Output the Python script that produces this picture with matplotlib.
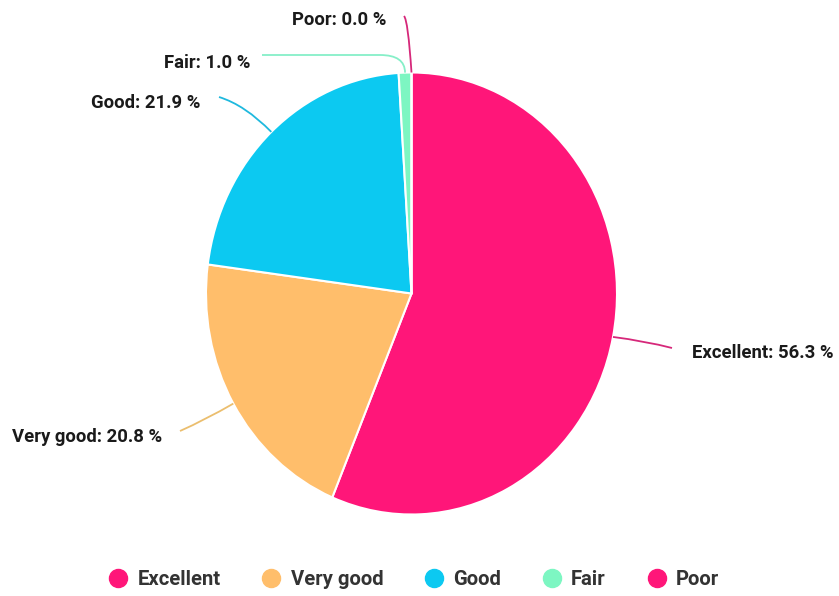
import numpy as np
import matplotlib
matplotlib.use("Agg")
from matplotlib import pyplot as plt
from matplotlib.path import Path
from matplotlib.patches import PathPatch
from matplotlib.lines import Line2D

categories = ['Excellent', 'Very good', 'Good', 'Fair', 'Poor']
shares = [56.3, 20.8, 21.9, 1.0, 0.0]
colors = ['#FF1679', '#FFBE6B', '#0CC9F1', '#7DF6C2', '#FF1679']
line_colors = ['#D6287A', '#EBBE6E', '#1FB9DE', '#86EFC8', '#D6287A']

W, H = 839, 596
CX, CY = 411.5, 293.5     # pie centre in pixels (from top)
RX, RY = 205.5, 221.0     # source image is slightly stretched vertically

plt.rcParams['font.family'] = ['Roboto', 'DejaVu Sans']

fig = plt.figure(figsize=(W / 100, H / 100), dpi=100)
ax = fig.add_axes([0, 0, 1, 1])
ax.pie(shares, colors=colors, startangle=90, counterclock=False,
       radius=1, wedgeprops=dict(edgecolor='white', linewidth=1.5))
ax.set_aspect('auto')
ax.set_xlim(-CX / RX, (W - CX) / RX)
ax.set_ylim(-(H - CY) / RY, CY / RY)
ax.axis('off')


def px(x, y):
    # pixel position (y from top) -> data coords
    return ((x - CX) / RX, (CY - y) / RY)


# anchor points on the rim, at each wedge's middle angle
cum = np.cumsum([0] + shares[:-1])
anchors = []
for c, s in zip(cum, shares):
    ang = np.deg2rad(90 - (c + s / 2) * 3.6)
    anchors.append((np.cos(ang), np.sin(ang)))

# leader line shapes (pixel coords, after the anchor) and text placement
leaders = {
    'Excellent': ([(645, 341), (672, 348)], (692, 353), 'left'),
    'Very good': ([(205, 420), (180, 431)], (162, 437), 'right'),
    'Good': ([(245, 105), (219, 97)], (200, 103), 'right'),
    'Fair': ([(405, 55), (380, 55), (262, 55)], (250, 63), 'right'),
    'Poor': ([(408, 20), (404, 16)], (386, 20), 'right'),
}

for i, name in enumerate(categories):
    pts, tpos, ha = leaders[name]
    start = anchors[i]
    verts = [start] + [px(*p) for p in pts]
    if len(verts) == 3:
        codes = [Path.MOVETO, Path.CURVE3, Path.CURVE3]
    else:
        codes = [Path.MOVETO, Path.CURVE3, Path.CURVE3, Path.LINETO]
    ax.add_patch(PathPatch(Path(verts, codes), facecolor='none',
                           edgecolor=line_colors[i], linewidth=1.3))
    tx, ty = px(*tpos)
    ax.text(tx, ty, f'{name}: {shares[i]:.1f} %', ha=ha, va='center',
            fontsize=13.3, fontweight='bold', color='#1a1a1a')

handles = [Line2D([], [], marker='o', linestyle='none', markersize=13,
                  markerfacecolor=c, markeredgecolor=c) for c in colors]
fig.legend(handles, categories, loc='center', bbox_to_anchor=(0.493, 0.028),
           ncol=5, frameon=False, handlelength=1.0, handletextpad=0.45,
           columnspacing=2.0, prop=dict(family='Roboto', size=14.6, weight='bold'),
           labelcolor='#333333')

fig.savefig('out.png', dpi=100)
